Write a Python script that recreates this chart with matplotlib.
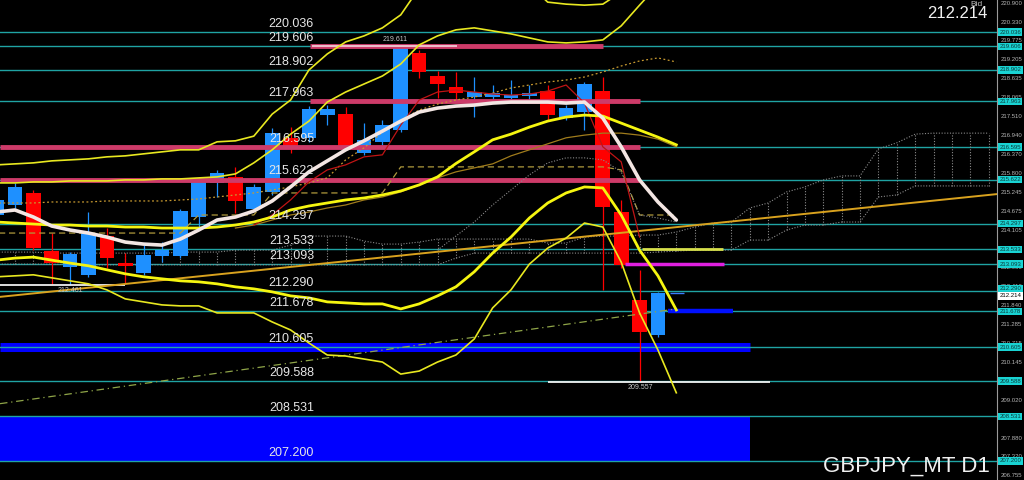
import matplotlib
matplotlib.use("Agg")
import matplotlib.pyplot as plt
import numpy as np

# ---------------- data ----------------
levels = [220.036, 219.606, 218.902, 217.963, 216.595, 215.622, 214.297,
          213.533, 213.093, 212.290, 211.678, 210.605, 209.588, 208.531, 207.200]
axis_ticks = [220.900, 220.330, 219.775, 219.205, 218.635, 218.065, 217.510,
              216.940, 216.370, 215.800, 215.245, 214.675, 214.105, 213.535,
              212.980, 212.410, 211.840, 211.285, 210.715, 210.145, 209.575,
              209.020, 208.450, 207.880, 207.320, 206.755]
bid = 212.214

# daily candles, bar index -1 .. 35
opens = [214.56, 214.86, 215.22, 213.48, 213.00, 212.77, 213.93, 213.12, 212.83, 213.33,
         213.33, 214.50, 215.52, 215.70, 214.74, 215.25, 216.86, 216.86, 217.55, 217.58,
         216.42, 216.75, 217.10, 219.41, 218.72, 218.39, 218.09, 218.09, 218.06, 218.12,
         218.27, 217.46, 217.64, 218.27, 214.65, 212.02, 210.97]
highs = [215.16, 215.52, 215.31, 214.02, 213.45, 214.65, 214.17, 213.42, 213.66, 213.75,
         214.74, 215.67, 215.91, 216.00, 215.49, 217.16, 217.19, 217.82, 217.85, 217.79,
         217.31, 217.40, 219.611, 219.50, 218.87, 218.84, 218.69, 218.45, 218.60, 218.45,
         218.45, 217.85, 218.54, 218.69, 215.01, 212.92, 212.25]
lows = [214.41, 214.77, 213.51, 212.50, 212.461, 212.71, 212.97, 212.52, 212.77, 213.15,
        213.27, 214.11, 215.10, 214.62, 214.68, 215.16, 216.42, 216.75, 217.25, 216.51,
        216.36, 216.66, 217.04, 218.66, 218.06, 218.00, 217.49, 217.91, 217.91, 218.00,
        217.40, 217.40, 217.10, 212.32, 212.97, 209.557, 210.91]
closes = [215.01, 215.40, 213.57, 213.12, 213.39, 214.02, 213.27, 213.03, 213.36, 213.51,
          214.68, 215.58, 215.82, 214.98, 215.40, 217.01, 216.63, 217.73, 217.73, 216.60,
          216.80, 217.25, 219.59, 218.84, 218.48, 218.21, 218.24, 218.21, 218.15, 218.21,
          217.55, 217.76, 218.48, 214.80, 213.06, 211.06, 212.214]

# indicators, bar index -1 .. 36
ma_white = [214.65, 214.71, 214.50, 214.23, 214.11, 214.02, 213.90, 213.75, 213.69, 213.66,
            213.84, 214.11, 214.41, 214.50, 214.68, 214.98, 215.40, 215.85, 216.18, 216.51,
            216.78, 217.07, 217.37, 217.64, 217.76, 217.82, 217.85, 217.91, 217.94, 217.94,
            217.94, 217.91, 217.94, 217.46, 216.60, 215.61, 214.95, 214.41]
band_up3 = [216.06, 216.09, 216.12, 216.18, 216.21, 216.24, 216.30, 216.33, 216.39, 216.45,
            216.51, 216.51, 216.75, 216.78, 216.92, 217.58, 218.00, 218.90, 219.38, 219.74,
            219.92, 220.16, 220.55, 221.35, 221.74, 222.04, 222.19, 222.13, 221.89, 221.44,
            220.93, 220.87, 220.84, 220.87, 221.23, 221.74, 222.19, 222.64]
band_up2 = [215.52, 215.52, 215.55, 215.55, 215.58, 215.58, 215.58, 215.61, 215.61, 215.64,
            215.64, 215.67, 215.70, 215.79, 216.12, 216.51, 216.98, 217.37, 217.94, 218.24,
            218.48, 218.72, 219.08, 219.65, 219.92, 220.10, 220.16, 220.07, 219.98, 219.86,
            219.74, 219.71, 219.74, 219.80, 220.22, 220.84, 221.44, 222.04]
band_up1 = [214.35, 214.32, 214.29, 214.26, 214.26, 214.23, 214.23, 214.20, 214.20, 214.17,
            214.17, 214.17, 214.20, 214.26, 214.35, 214.50, 214.71, 214.83, 214.92, 215.01,
            215.07, 215.16, 215.28, 215.46, 215.70, 216.10, 216.45, 216.81, 216.98, 217.19,
            217.37, 217.49, 217.55, 217.52, 217.31, 217.10, 216.89, 216.66]
band_dn1 = [213.21, 213.27, 213.30, 213.21, 213.12, 213.04, 212.92, 212.80, 212.71, 212.65,
            212.59, 212.56, 212.50, 212.41, 212.35, 212.26, 212.14, 212.08, 211.96, 211.93,
            211.90, 211.90, 211.75, 211.90, 212.14, 212.41, 212.86, 213.42, 213.90, 214.47,
            214.92, 215.22, 215.40, 215.37, 214.56, 213.51, 212.74, 211.72]
band_dn2 = [212.71, 212.74, 212.77, 212.68, 212.59, 212.50, 212.32, 212.05, 211.96, 211.87,
            211.84, 211.84, 211.63, 211.63, 211.63, 211.36, 211.12, 210.73, 210.37, 210.34,
            210.25, 210.16, 209.80, 209.89, 210.16, 210.37, 210.85, 211.78, 212.32, 213.09,
            213.57, 213.87, 214.32, 214.20, 213.15, 211.63, 210.52, 209.24]
dotted_orange = [214.92, 214.92, 214.92, 214.95, 214.95, 214.95, 214.98, 214.98, 214.98, 214.98,
                 215.01, 215.04, 215.10, 215.16, 215.22, 215.31, 215.40, 215.52, 215.67, 216.21,
                 216.57, 217.04, 217.40, 217.70, 217.88, 218.00, 218.09, 218.21, 218.36, 218.45,
                 218.54, 218.60, 218.69, 218.84, 219.02, 219.17, 219.26, 219.14]
kijun = [214.02, 214.02, 214.02, 214.02, 214.02, 214.02, 214.02, 214.02, 214.02, 214.02,
         214.02, 214.56, 214.56, 214.56, 214.56, 215.22, 215.22, 215.22, 215.22, 215.22,
         215.22, 215.22, 216.00, 216.00, 216.00, 216.00, 216.00, 216.00, 216.00, 216.00,
         216.00, 216.00, 216.00, 216.00, 215.91, 214.56, 214.56, 214.56]
# thin olive line, bar index 12 .. 36
olive_line = [214.17, 214.26, 214.41, 214.56, 214.65, 214.77, 214.86, 215.01, 215.10, 215.25,
              215.46, 215.67, 215.85, 215.97, 216.09, 216.33, 216.51, 216.69, 216.87, 216.95,
              217.01, 217.01, 216.95, 216.83, 216.60]
# thin red line, bar index 13 .. 34
red_line = [214.26, 214.56, 215.01, 215.55, 215.91, 216.06, 216.30, 216.36, 217.25, 218.00,
            218.24, 218.30, 218.24, 218.18, 218.15, 218.18, 218.27, 218.45, 217.91, 216.60,
            216.15, 213.90]
# grey dotted line, bar index 23 .. 36
grey_line = [213.51, 213.93, 214.35, 214.86, 215.31, 215.76, 216.12, 216.27, 216.27, 216.21,
             215.85, 214.56, 214.47, 214.35]
# ichimoku cloud, bar index -1 .. 53
cloud_top = [213.45, 213.45, 213.45, 213.42, 213.42, 213.42, 213.42, 213.42, 213.42, 213.42,
             213.45, 213.45, 213.45, 213.51, 213.51, 213.51, 213.66, 213.93, 213.93, 213.93,
             213.78, 213.69, 213.69, 213.75, 213.84, 213.84, 213.84, 213.84, 213.84, 213.84,
             213.72, 213.72, 213.90, 213.93, 213.93, 213.96, 213.96, 214.05, 214.20, 214.32,
             214.35, 214.77, 214.92, 215.25, 215.40, 215.61, 215.73, 215.73, 216.54, 216.72,
             216.98, 217.01, 217.01, 217.01, 217.01]
cloud_bot = [213.09, 213.09, 213.09, 213.09, 213.07, 213.07, 213.07, 213.07, 213.07, 213.07,
             213.07, 213.07, 213.07, 213.07, 213.07, 213.07, 213.07, 213.07, 213.07, 213.07,
             213.07, 213.07, 213.07, 213.07, 213.07, 213.27, 213.42, 213.42, 213.42, 213.42,
             213.42, 213.42, 213.42, 213.42, 213.42, 213.42, 213.45, 213.48, 213.51, 213.51,
             213.51, 213.81, 213.81, 214.11, 214.26, 214.26, 214.35, 214.35, 215.10, 215.16,
             215.43, 215.43, 215.43, 215.43, 215.43]
# trend lines (two anchor points each: bar index, price)
trend_gold = [(-1, 212.10), (53, 215.16)]
trend_olive = [(-1, 208.90), (36, 211.75)]
high_mark = 219.611
low_mark = 209.557
low_mark_left = 212.461

# ---------------- figure ----------------
W, H = 1024, 480
fig = plt.figure(figsize=(W / 100, H / 100), dpi=100, facecolor="black")
ax = fig.add_axes([0, 0, 997 / W, 1])
ax.set_facecolor("black")
PX0, PXS = 15.0, 18.37            # pixel of bar 0, pixels per bar
def bx(px):                        # pixel column -> bar index
    return (px - PX0) / PXS
ax.set_xlim(bx(0), bx(997))
ax.set_ylim(206.63, 220.994)
ax.set_xticks([]); ax.set_yticks([])
for s in ["top", "left", "bottom"]:
    ax.spines[s].set_visible(False)
ax.spines["right"].set_color("#9a9a9a")
ax.spines["right"].set_linewidth(0.8)

xl = bx(0)
xc = np.arange(-1, 36)
xi = np.arange(-1, 37)
xcl = np.arange(-1, 54)

# blue zones
ax.fill_between([xl, bx(750)], levels[14], levels[13], color="#0000ff", lw=0, zorder=1)
ax.hlines(levels[11], xl, bx(750), color="#0000ff", lw=6.5, zorder=1)

# teal horizontal levels
for lv in levels:
    ax.axhline(lv, color="#1fa3a3", lw=1.0, zorder=2)

# ichimoku cloud (dotted)
ax.plot(xcl, cloud_top, color="#8a8a8a", ls=(0, (1, 1.5)), lw=0.8, zorder=3)
ax.plot(xcl, cloud_bot, color="#8a8a8a", ls=(0, (1, 1.5)), lw=0.8, zorder=3)
ax.vlines(xcl, cloud_bot, cloud_top, color="#8a8a8a", linestyles=(0, (1, 1.5)), lw=0.8, zorder=3)

# candles
o = np.array(opens); c = np.array(closes)
colors = np.where(c >= o, "#1e90ff", "#ff0000")
ax.vlines(xc, lows, highs, colors=colors, lw=0.9, zorder=4)
ax.bar(xc, c - o, bottom=o, width=0.8, color=colors, lw=0, zorder=4)

# pink resistance/support bars
ax.hlines(levels[1], bx(310), bx(603), color="#cd3b69", lw=3.5, zorder=5)
ax.hlines(high_mark, bx(312), bx(457), color="#f4d6de", lw=1.2, zorder=5)
ax.hlines(levels[3], bx(310), bx(640), color="#cd3b69", lw=3.5, zorder=5)
ax.hlines(levels[4], xl, bx(640), color="#cd3b69", lw=3.5, zorder=5)
ax.hlines(levels[5], xl, bx(640), color="#cd3b69", lw=3.5, zorder=5)

# short level segments
ax.hlines(levels[7], bx(642), bx(723), color="#d8e04a", lw=2.0, zorder=5)
ax.hlines(levels[8], bx(625), bx(724), color="#e020e0", lw=2.5, zorder=5)
ax.hlines(levels[10], bx(668), bx(733), color="#0010ff", lw=3.2, zorder=5)
ax.hlines(low_mark, bx(548), bx(770), color="#f0f0f0", lw=1.3, zorder=5)
ax.hlines(low_mark_left, xl, bx(125), color="#f0f0f0", lw=1.3, zorder=5)
ax.hlines(bid, bx(670), bx(684), color="#3a7cff", lw=1.0, zorder=5)

# trend lines
ax.axline(trend_gold[0], trend_gold[1], color="#d9a21e", lw=1.4, zorder=6)
(tx0, tp0), (tx1, tp1) = trend_olive
ax.plot([xl, tx1], [tp0 + (tp1 - tp0) * (xl - tx0) / (tx1 - tx0), tp1],
        color="#8fa548", lw=0.9, ls=(0, (6, 3, 1, 3)), zorder=6)

# indicator lines
ax.plot(xi, kijun, color="#b09a3c", lw=0.9, ls=(0, (5, 3)), zorder=6)
ax.plot(xi, dotted_orange, color="#c89a30", lw=0.9, ls=(0, (1.5, 2)), zorder=6)
ax.plot(np.arange(23, 37), grey_line, color="#8a8a8a", lw=0.8, ls=(0, (1, 1.5)), zorder=6)
ax.plot(np.arange(12, 37), olive_line, color="#a07c1c", lw=0.9, zorder=6)
ax.plot(np.arange(13, 35), red_line, color="#c01414", lw=0.9, zorder=6)
ax.plot(xi, band_up3, color="#e8e820", lw=1.2, zorder=7)
ax.plot(xi, band_up2, color="#e8e820", lw=1.2, zorder=7)
ax.plot(xi, band_up1, color="#f5f510", lw=2.0, zorder=7)
ax.plot(xi, band_dn1, color="#f5f510", lw=2.0, zorder=7)
ax.plot(xi, band_dn2, color="#e8e820", lw=1.2, zorder=7)
ax.plot(xi, ma_white, color="#f3e6e3", lw=2.6, zorder=8, solid_capstyle="round")

# level labels (left-centre)
fam = ["Liberation Sans", "DejaVu Sans"]
lab_font = dict(family=fam, fontsize=9, color="#e6e6e6")
for lv in levels:
    ax.annotate(f"{lv:.3f}", (bx(314), lv), xytext=(0, 1.5), textcoords="offset points",
                ha="right", va="bottom", zorder=9, **lab_font)

small = dict(family=fam, fontsize=5, color="#c8c8c8")
ax.annotate(f"{high_mark:.3f}", (bx(395), high_mark), xytext=(0, 2), textcoords="offset points",
            ha="center", va="bottom", zorder=9, **small)
ax.annotate(f"{low_mark:.3f}", (bx(640), low_mark), xytext=(0, -1.5), textcoords="offset points",
            ha="center", va="top", zorder=9, **small)
ax.annotate(f"{low_mark_left:.3f}", (3, low_mark_left), xytext=(0, -1), textcoords="offset points",
            ha="center", va="top", zorder=9, **small)

# right price axis
ytr = ax.get_yaxis_transform()
for t in axis_ticks:
    if min(abs(t - lv) for lv in levels + [bid]) < 0.10:
        continue          # hidden behind a price box
    ax.text(1.004, t, f"{t:.3f}", transform=ytr, ha="left", va="center", clip_on=False,
            family=fam, fontsize=4.3, color="#b4b4b4")
for lv in levels:
    va = "bottom" if 0 < lv - bid < 0.15 else "center"
    ax.text(1.0025, lv, f"{lv:.3f}", transform=ytr, ha="left", va=va, clip_on=False,
            family=fam, fontsize=4.3, color="#0a3a3a", zorder=10,
            bbox=dict(boxstyle="square,pad=0.2", fc="#19d3d3", ec="none"))
ax.text(1.0025, bid, f"{bid:.3f}", transform=ytr, ha="left", va="top", clip_on=False,
        family=fam, fontsize=4.3, color="#000000", zorder=10,
        bbox=dict(boxstyle="square,pad=0.2", fc="#ffffff", ec="none"))

# header / footer text
fig.text(983 / W, 1 - 0.5 / H, "Bid", ha="right", va="top", color="#bdbdbd",
         family=fam, fontsize=6)
fig.text(988 / W, 1 - 14 / H, f"{bid:.3f}", ha="right", va="center", color="#f0f0f0",
         family=fam, fontsize=12)
fig.text(990 / W, 1 - 466 / H, "GBPJPY_MT D1", ha="right", va="center", color="#f0f0f0",
         family=fam, fontsize=16)

fig.savefig("out.png", dpi=100, facecolor="black")
